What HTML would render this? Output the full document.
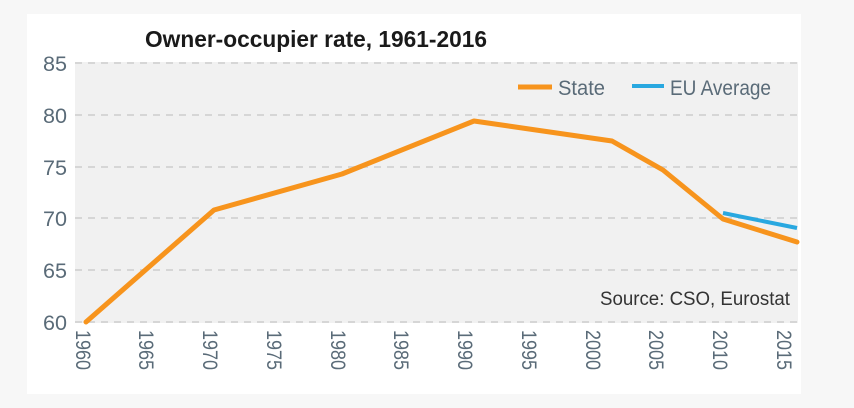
<!DOCTYPE html><html><head><style>
body{margin:0;background:#f7f7f7;}
svg{display:block;font-family:"Liberation Sans",sans-serif;}
</style></head><body>
<svg width="854" height="408" viewBox="0 0 854 408">
<rect x="0" y="0" width="854" height="408" fill="#f7f7f7"/>
<rect x="27" y="14" width="774" height="380" fill="#ffffff"/>
<rect x="75" y="62" width="723" height="261" fill="#f1f1f1"/>
<g stroke="#d6d6d6" stroke-width="2" stroke-dasharray="7,6">
<line x1="75" y1="63" x2="798" y2="63"/><line x1="75" y1="115" x2="798" y2="115"/>
<line x1="75" y1="167" x2="798" y2="167"/><line x1="75" y1="218" x2="798" y2="218"/>
<line x1="75" y1="270" x2="798" y2="270"/><line x1="75" y1="322" x2="798" y2="322"/>
</g>
<text x="145" y="47" font-size="23" font-weight="bold" fill="#1a1a1a" textLength="342" lengthAdjust="spacingAndGlyphs">Owner-occupier rate, 1961-2016</text>
<g font-size="21" fill="#5a6b78" text-anchor="end">
<text x="67" y="71" textLength="24" lengthAdjust="spacingAndGlyphs">85</text>
<text x="67" y="123" textLength="24" lengthAdjust="spacingAndGlyphs">80</text>
<text x="67" y="175" textLength="24" lengthAdjust="spacingAndGlyphs">75</text>
<text x="67" y="226" textLength="24" lengthAdjust="spacingAndGlyphs">70</text>
<text x="67" y="278" textLength="24" lengthAdjust="spacingAndGlyphs">65</text>
<text x="67" y="330" textLength="24" lengthAdjust="spacingAndGlyphs">60</text>
</g>
<g font-size="21" fill="#5a6b78">
<text transform="translate(76,330) rotate(90)" textLength="40" lengthAdjust="spacingAndGlyphs">1960</text>
<text transform="translate(139,330) rotate(90)" textLength="40" lengthAdjust="spacingAndGlyphs">1965</text>
<text transform="translate(203,330) rotate(90)" textLength="40" lengthAdjust="spacingAndGlyphs">1970</text>
<text transform="translate(267,330) rotate(90)" textLength="40" lengthAdjust="spacingAndGlyphs">1975</text>
<text transform="translate(331,330) rotate(90)" textLength="40" lengthAdjust="spacingAndGlyphs">1980</text>
<text transform="translate(394,330) rotate(90)" textLength="40" lengthAdjust="spacingAndGlyphs">1985</text>
<text transform="translate(458,330) rotate(90)" textLength="40" lengthAdjust="spacingAndGlyphs">1990</text>
<text transform="translate(522,330) rotate(90)" textLength="40" lengthAdjust="spacingAndGlyphs">1995</text>
<text transform="translate(586,330) rotate(90)" textLength="40" lengthAdjust="spacingAndGlyphs">2000</text>
<text transform="translate(649,330) rotate(90)" textLength="40" lengthAdjust="spacingAndGlyphs">2005</text>
<text transform="translate(713,330) rotate(90)" textLength="40" lengthAdjust="spacingAndGlyphs">2010</text>
<text transform="translate(777,330) rotate(90)" textLength="40" lengthAdjust="spacingAndGlyphs">2015</text>
</g>
<polyline fill="none" stroke="#f7941d" stroke-width="5" stroke-linejoin="round" stroke-linecap="round"
 points="86,322 214,210 342,174 474,121 612,141 663,170 723,219 797,242"/>
<polyline fill="none" stroke="#29a8e0" stroke-width="4" points="723,213 797,228"/>
<line x1="518" y1="87" x2="552" y2="87" stroke="#f7941d" stroke-width="5"/>
<text x="558" y="95" font-size="21" fill="#5a6b78" textLength="47" lengthAdjust="spacingAndGlyphs">State</text>
<line x1="632" y1="86" x2="664" y2="86" stroke="#29a8e0" stroke-width="4"/>
<text x="670" y="95" font-size="21" fill="#5a6b78" textLength="101" lengthAdjust="spacingAndGlyphs">EU Average</text>
<text x="600" y="305" font-size="19" fill="#333" textLength="190" lengthAdjust="spacingAndGlyphs">Source: CSO, Eurostat</text>
</svg>
</body></html>
